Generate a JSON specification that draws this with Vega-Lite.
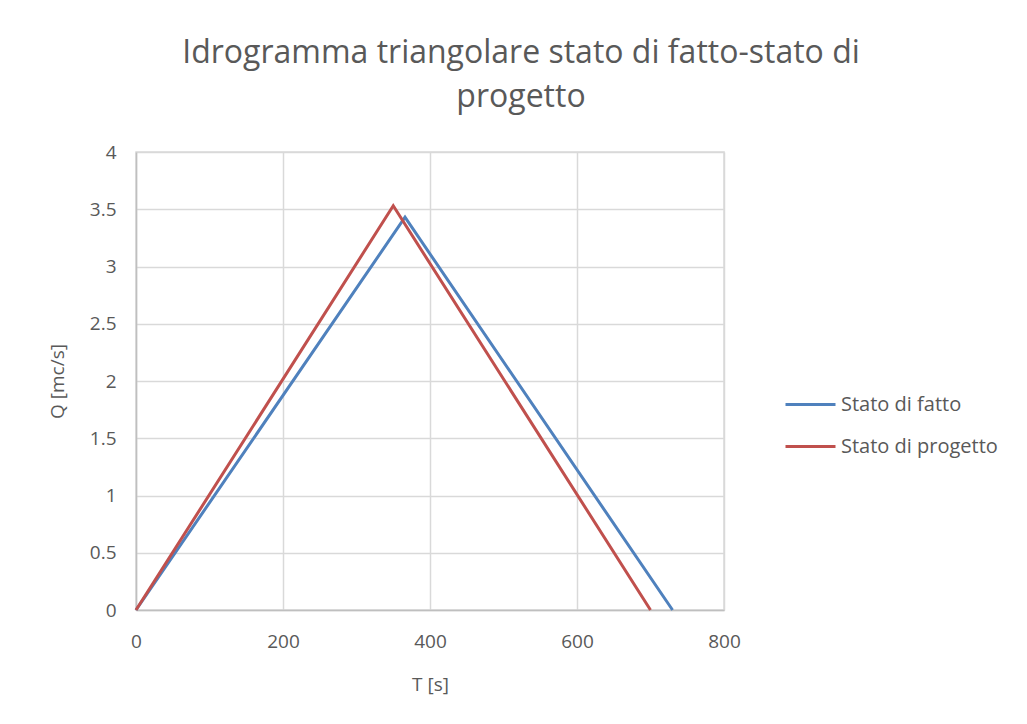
{
  "$schema": "https://vega.github.io/schema/vega-lite/v6.json",
  "width": 588,
  "height": 458,
  "autosize": {"type": "none"},
  "padding": {"left": 136, "top": 152, "right": 303, "bottom": 114},
  "background": "white",
  "title": {
    "text": ["Idrogramma triangolare stato di fatto-stato di", "progetto"],
    "font": "Open Sans",
    "fontSize": 32,
    "fontWeight": "normal",
    "color": "#595959",
    "anchor": "middle",
    "dx": 91,
    "offset": 29,
    "lineHeight": 44
  },
  "data": {
    "values": [
      {"serie": "Stato di fatto", "T": 0, "Q": 0},
      {"serie": "Stato di fatto", "T": 366, "Q": 3.43},
      {"serie": "Stato di fatto", "T": 730, "Q": 0},
      {"serie": "Stato di progetto", "T": 0, "Q": 0},
      {"serie": "Stato di progetto", "T": 350, "Q": 3.53},
      {"serie": "Stato di progetto", "T": 700, "Q": 0}
    ]
  },
  "mark": {"type": "line", "strokeWidth": 3},
  "encoding": {
    "x": {
      "field": "T", "type": "quantitative",
      "scale": {"domain": [0, 800], "nice": false},
      "axis": {"title": "T [s]", "values": [0, 200, 400, 600, 800], "format": "d", "labelFlush": false, "titlePadding": 24, "labelPadding": 22}
    },
    "y": {
      "field": "Q", "type": "quantitative",
      "scale": {"domain": [0, 4], "nice": false},
      "axis": {"title": "Q [mc/s]", "values": [0, 0.5, 1, 1.5, 2, 2.5, 3, 3.5, 4], "format": "~g", "labelFlush": false, "titlePadding": 22, "labelPadding": 20}
    },
    "color": {
      "field": "serie", "type": "nominal",
      "scale": {"domain": ["Stato di fatto", "Stato di progetto"], "range": ["#4F81BD", "#C0504D"]},
      "legend": {
        "title": null,
        "orient": "none",
        "legendX": 648,
        "legendY": 226,
        "symbolType": "stroke",
        "symbolSize": 2500,
        "symbolStrokeWidth": 3,
        "labelFont": "Open Sans",
        "labelFontSize": 20,
        "labelColor": "#595959",
        "labelOffset": 4,
        "rowPadding": 5
      }
    }
  },
  "config": {
    "view": {"stroke": "#d9d9d9", "strokeWidth": 1.5},
    "axis": {
      "labelFont": "Open Sans",
      "labelFontSize": 19,
      "labelColor": "#595959",
      "titleFont": "Open Sans",
      "titleFontSize": 19,
      "titleFontWeight": "normal",
      "titleColor": "#595959",
      "gridColor": "#d9d9d9",
      "gridWidth": 1.5,
      "domainColor": "#bfbfbf",
      "domainWidth": 1.5,
      "ticks": false
    }
  }
}
